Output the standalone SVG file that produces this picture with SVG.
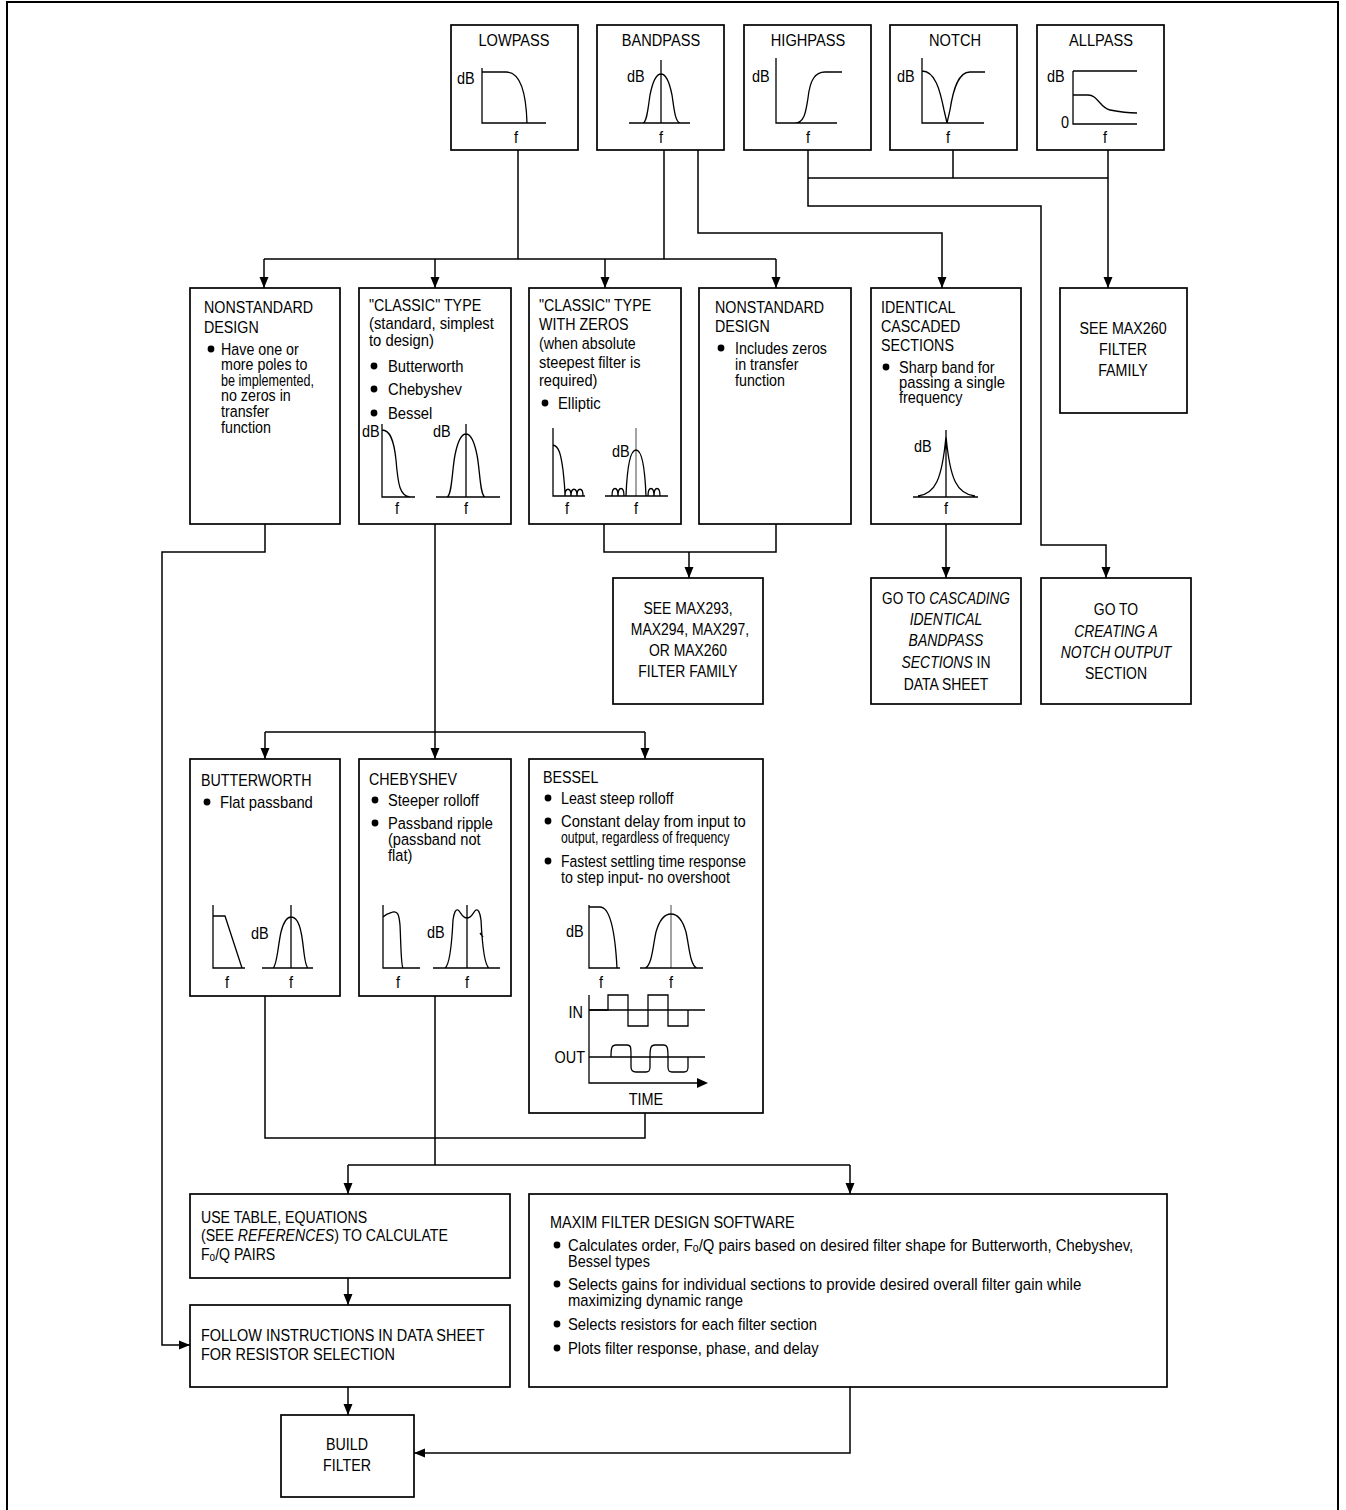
<svg xmlns="http://www.w3.org/2000/svg" width="1346" height="1510" viewBox="0 0 1346 1510">
<defs>
<marker id="ah" markerUnits="userSpaceOnUse" markerWidth="12" markerHeight="10" refX="11" refY="5" orient="auto"><path d="M0,0.5 L11,5 L0,9.5 z" fill="#000"/></marker>
<style>
.bx{fill:#fff;stroke:#000;stroke-width:1.7}
.ln{fill:none;stroke:#000;stroke-width:1.5}
.ar{fill:none;stroke:#000;stroke-width:1.5;marker-end:url(#ah)}
.gr{fill:none;stroke:#000;stroke-width:1.3}
.gy{fill:none;stroke:#666;stroke-width:1.2}
text{font-family:"Liberation Sans",Arial,Helvetica,sans-serif;font-size:17px;fill:#000}
.c{text-anchor:middle}
.e{text-anchor:end}
.i{font-style:italic}
</style>
</defs>
<rect width="1346" height="1510" fill="#fff"/>
<path d="M7,1512 V2 H1338 V1512" fill="none" stroke="#000" stroke-width="2"/>

<g id="connectors">
<path class="ln" d="M518,150 V259 M664,150 V259 M264,259 H776"/>
<path class="ar" d="M264,259 V288"/><path class="ar" d="M435,259 V288"/><path class="ar" d="M605,259 V288"/><path class="ar" d="M776,259 V288"/>
<path class="ar" d="M698,150 V233 H942 V288"/>
<path class="ar" d="M808,150 V206 H1041 V545 H1106 V578"/>
<path class="ln" d="M808,178 H1108 M953,150 V178"/>
<path class="ar" d="M1108,150 V288"/>
<path class="ar" d="M265,524 V552 H162 V1345 H190"/>
<path class="ln" d="M604,524 V552 H776 V524"/>
<path class="ar" d="M689,552 V578"/>
<path class="ar" d="M946,524 V578"/>
<path class="ln" d="M435,524 V732 M265,732 H645"/>
<path class="ar" d="M265,732 V759"/><path class="ar" d="M435,732 V759"/><path class="ar" d="M645,732 V759"/>
<path class="ln" d="M265,996 V1138 H645 V1113"/>
<path class="ln" d="M435,996 V1165 M348,1165 H850"/>
<path class="ar" d="M348,1165 V1194"/><path class="ar" d="M850,1165 V1194"/>
<path class="ar" d="M348,1278 V1305"/>
<path class="ar" d="M348,1387 V1415"/>
<path class="ar" d="M850,1387 V1453 H414"/>
</g>

<g id="lowpass">
<rect class="bx" x="451" y="25" width="127" height="125"/>
<text class="c" transform="matrix(.86 0 0 1 514 46)">LOWPASS</text>
<text transform="matrix(.85 0 0 1 457 84)">dB</text>
<path class="gr" d="M482,68 V123 H546 M482,72 H506 C518,72 526,88 527,123"/>
<text class="c" transform="matrix(.85 0 0 1 516 143)">f</text>
</g>
<g id="bandpass">
<rect class="bx" x="597" y="25" width="127" height="125"/>
<text class="c" transform="matrix(.86 0 0 1 661 46)">BANDPASS</text>
<text transform="matrix(.85 0 0 1 627 82)">dB</text>
<path class="gr" d="M661,60 V123 M629,123 H690 M643,123 C647,122 648,108 650,95 C653,80 657,74 661,74 C665,74 669,80 672,95 C674,108 675,122 680,123"/>
<text class="c" transform="matrix(.85 0 0 1 661 143)">f</text>
</g>
<g id="highpass">
<rect class="bx" x="744" y="25" width="127" height="125"/>
<text class="c" transform="matrix(.86 0 0 1 808 46)">HIGHPASS</text>
<text transform="matrix(.85 0 0 1 752 82)">dB</text>
<path class="gr" d="M776,58 V123 H837 M795,123 C805,123 806,110 808,98 C810,80 815,72 825,72 H842"/>
<text class="c" transform="matrix(.85 0 0 1 808 143)">f</text>
</g>
<g id="notch">
<rect class="bx" x="890" y="25" width="127" height="125"/>
<text class="c" transform="matrix(.86 0 0 1 955 46)">NOTCH</text>
<text transform="matrix(.85 0 0 1 897 82)">dB</text>
<path class="gr" d="M922,58 V123 H984 M922,71 C935,71 940,90 944,110 L947,123 L950,110 C953,90 958,72 970,72 H985"/>
<text class="c" transform="matrix(.85 0 0 1 948 143)">f</text>
</g>
<g id="allpass">
<rect class="bx" x="1037" y="25" width="127" height="125"/>
<text class="c" transform="matrix(.86 0 0 1 1101 46)">ALLPASS</text>
<text transform="matrix(.85 0 0 1 1047 82)">dB</text>
<text transform="matrix(.85 0 0 1 1061 128)">0</text>
<path class="gr" d="M1073,71 V124 H1137 M1073,71 H1137 M1073,95 H1088 C1098,95 1100,108 1110,110 C1120,112 1125,113 1137,113"/>
<text class="c" transform="matrix(.85 0 0 1 1105 143)">f</text>
</g>

<g id="nonstandard1">
<rect class="bx" x="190" y="288" width="150" height="236"/>
<text transform="matrix(.84 0 0 1 204 313)">NONSTANDARD</text>
<text transform="matrix(.84 0 0 1 204 333)">DESIGN</text>
<circle cx="211" cy="349" r="3.4"/>
<text transform="matrix(.84 0 0 1 221 355)">Have one or</text>
<text transform="matrix(.84 0 0 1 221 370)">more poles to</text>
<text transform="matrix(.74 0 0 1 221 386)">be implemented,</text>
<text transform="matrix(.84 0 0 1 221 401)">no zeros in</text>
<text transform="matrix(.84 0 0 1 221 417)">transfer</text>
<text transform="matrix(.84 0 0 1 221 433)">function</text>
</g>
<g id="classic">
<rect class="bx" x="359" y="288" width="152" height="236"/>
<text transform="matrix(.84 0 0 1 369 311)">"CLASSIC" TYPE</text>
<text transform="matrix(.87 0 0 1 369 329)">(standard, simplest</text>
<text transform="matrix(.87 0 0 1 369 346)">to design)</text>
<circle cx="374" cy="366" r="3.4"/><circle cx="374" cy="389" r="3.4"/><circle cx="374" cy="413" r="3.4"/>
<text transform="matrix(.87 0 0 1 388 372)">Butterworth</text>
<text transform="matrix(.87 0 0 1 388 395)">Chebyshev</text>
<text transform="matrix(.87 0 0 1 388 419)">Bessel</text>
<text transform="matrix(.85 0 0 1 362 437)">dB</text>
<path class="gr" d="M382,424 V497 H415 M382,430 C390,430 394,440 396,460 C398,485 400,496 410,497"/>
<text transform="matrix(.85 0 0 1 433 437)">dB</text>
<path class="gr" d="M466,424 V497 M436,497 H500 M447,497 C452,496 452,470 455,455 C458,440 462,434 466,434 C470,434 474,440 477,455 C480,470 480,496 485,497"/>
<text class="c" transform="matrix(.85 0 0 1 397 514)">f</text>
<text class="c" transform="matrix(.85 0 0 1 466 514)">f</text>
</g>
<g id="classic-zeros">
<rect class="bx" x="529" y="288" width="152" height="236"/>
<text transform="matrix(.84 0 0 1 539 311)">"CLASSIC" TYPE</text>
<text transform="matrix(.84 0 0 1 539 330)">WITH ZEROS</text>
<text transform="matrix(.84 0 0 1 539 349)">(when absolute</text>
<text transform="matrix(.86 0 0 1 539 368)">steepest filter is</text>
<text transform="matrix(.86 0 0 1 539 386)">required)</text>
<circle cx="545" cy="403" r="3.4"/>
<text transform="matrix(.87 0 0 1 558 409)">Elliptic</text>
<path class="gr" d="M553,428 V496 H585 M553,445 C559,446 561,455 563,470 C565,488 565,494 565,496 M565,496 C565,487 571,487 571,496 C571,487 577,487 577,496 C577,487 583,487 583,496"/>
<text transform="matrix(.85 0 0 1 612 457)">dB</text>
<path class="gy" d="M636,428 V496"/>
<path class="gr" d="M605,496 H668 M626,496 C627,470 630,450 636,450 C642,450 645,470 646,496 M612,496 C612,486 618,486 618,496 C618,486 624,486 624,496 M648,496 C648,486 654,486 654,496 C654,486 660,486 660,496"/>
<text class="c" transform="matrix(.85 0 0 1 567 514)">f</text>
<text class="c" transform="matrix(.85 0 0 1 636 514)">f</text>
</g>
<g id="nonstandard2">
<rect class="bx" x="699" y="288" width="152" height="236"/>
<text transform="matrix(.84 0 0 1 715 313)">NONSTANDARD</text>
<text transform="matrix(.84 0 0 1 715 332)">DESIGN</text>
<circle cx="721" cy="348" r="3.4"/>
<text transform="matrix(.84 0 0 1 735 354)">Includes zeros</text>
<text transform="matrix(.84 0 0 1 735 370)">in transfer</text>
<text transform="matrix(.84 0 0 1 735 386)">function</text>
</g>
<g id="identical">
<rect class="bx" x="871" y="288" width="150" height="236"/>
<text transform="matrix(.84 0 0 1 881 313)">IDENTICAL</text>
<text transform="matrix(.84 0 0 1 881 332)">CASCADED</text>
<text transform="matrix(.84 0 0 1 881 351)">SECTIONS</text>
<circle cx="886" cy="367" r="3.4"/>
<text transform="matrix(.85 0 0 1 899 373)">Sharp band for</text>
<text transform="matrix(.87 0 0 1 899 388)">passing a single</text>
<text transform="matrix(.85 0 0 1 899 403)">frequency</text>
<text transform="matrix(.85 0 0 1 914 452)">dB</text>
<path class="gr" d="M946,430 V497 M913,497 H978 M918,496 C935,494 942,480 946,436 C950,480 957,494 975,496"/>
<text class="c" transform="matrix(.85 0 0 1 946 514)">f</text>
</g>
<g id="max260">
<rect class="bx" x="1060" y="288" width="127" height="125"/>
<text class="c" transform="matrix(.84 0 0 1 1123 334)">SEE MAX260</text>
<text class="c" transform="matrix(.84 0 0 1 1123 355)">FILTER</text>
<text class="c" transform="matrix(.84 0 0 1 1123 376)">FAMILY</text>
</g>

<g id="max293">
<rect class="bx" x="613" y="578" width="150" height="126"/>
<text class="c" transform="matrix(.82 0 0 1 688 614)">SEE MAX293,</text>
<text class="c" transform="matrix(.82 0 0 1 690 635)">MAX294, MAX297,</text>
<text class="c" transform="matrix(.82 0 0 1 688 656)">OR MAX260</text>
<text class="c" transform="matrix(.82 0 0 1 688 677)">FILTER FAMILY</text>
</g>
<g id="cascading">
<rect class="bx" x="871" y="578" width="150" height="126"/>
<text class="c" transform="matrix(.8 0 0 1 946 604)">GO TO <tspan class="i">CASCADING</tspan></text>
<text class="c i" transform="matrix(.82 0 0 1 946 625)">IDENTICAL</text>
<text class="c i" transform="matrix(.82 0 0 1 946 646)">BANDPASS</text>
<text class="c" transform="matrix(.82 0 0 1 946 668)"><tspan class="i">SECTIONS</tspan> IN</text>
<text class="c" transform="matrix(.82 0 0 1 946 690)">DATA SHEET</text>
</g>
<g id="notch-output">
<rect class="bx" x="1041" y="578" width="150" height="126"/>
<text class="c" transform="matrix(.82 0 0 1 1116 615)">GO TO</text>
<text class="c i" transform="matrix(.82 0 0 1 1116 637)">CREATING A</text>
<text class="c i" transform="matrix(.82 0 0 1 1116 658)">NOTCH OUTPUT</text>
<text class="c" transform="matrix(.82 0 0 1 1116 679)">SECTION</text>
</g>

<g id="butterworth">
<rect class="bx" x="190" y="759" width="150" height="237"/>
<text transform="matrix(.84 0 0 1 201 786)">BUTTERWORTH</text>
<circle cx="207" cy="802" r="3.4"/>
<text transform="matrix(.87 0 0 1 220 808)">Flat passband</text>
<path class="gr" d="M213,905 V968 H245 M213,916 H225 L242,968"/>
<text transform="matrix(.85 0 0 1 251 939)">dB</text>
<path class="gr" d="M291,905 V968 M262,968 H313 M273,968 C277,966 278,945 281,932 C284,920 288,917 291,917 C295,917 299,922 301,932 C304,945 304,966 308,968"/>
<text class="c" transform="matrix(.85 0 0 1 227 988)">f</text>
<text class="c" transform="matrix(.85 0 0 1 291 988)">f</text>
</g>
<g id="chebyshev">
<rect class="bx" x="359" y="759" width="152" height="237"/>
<text transform="matrix(.84 0 0 1 369 785)">CHEBYSHEV</text>
<circle cx="375" cy="800" r="3.4"/><circle cx="375" cy="823" r="3.4"/>
<text transform="matrix(.86 0 0 1 388 806)">Steeper rolloff</text>
<text transform="matrix(.86 0 0 1 388 829)">Passband ripple</text>
<text transform="matrix(.86 0 0 1 388 845)">(passband not</text>
<text transform="matrix(.86 0 0 1 388 861)">flat)</text>
<path class="gr" d="M383,905 V968 H420 M383,917 C387,913 390,913 393,912 C398,911 399,915 400,925 C401,945 401,966 403,968"/>
<text transform="matrix(.85 0 0 1 427 938)">dB</text>
<path class="gr" d="M467,905 V968 M433,968 H500 M445,968 C450,965 452,940 453,920 C454,912 456,909 458,910 C461,912 462,918 467,918 C472,918 473,912 476,910 C478,909 480,912 481,920 C482,940 484,965 489,968 M480,933 L483,937"/>
<text class="c" transform="matrix(.85 0 0 1 398 988)">f</text>
<text class="c" transform="matrix(.85 0 0 1 467 988)">f</text>
</g>
<g id="bessel">
<rect class="bx" x="529" y="759" width="234" height="354"/>
<text transform="matrix(.84 0 0 1 543 783)">BESSEL</text>
<circle cx="548" cy="798" r="3.4"/><circle cx="548" cy="821" r="3.4"/><circle cx="548" cy="861" r="3.4"/>
<text transform="matrix(.84 0 0 1 561 804)">Least steep rolloff</text>
<text transform="matrix(.87 0 0 1 561 827)">Constant delay from input to</text>
<text transform="matrix(.72 0 0 1 561 843)">output, regardless of frequency</text>
<text transform="matrix(.82 0 0 1 561 867)">Fastest settling time response</text>
<text transform="matrix(.84 0 0 1 561 883)">to step input- no overshoot</text>
<text transform="matrix(.85 0 0 1 566 937)">dB</text>
<path class="gr" d="M589,905 V968 H620 M589,907 H600 C610,907 615,930 617,968"/>
<path class="gy" d="M671,905 V968"/>
<path class="gr" d="M640,968 H703 M645,968 C652,966 653,945 656,932 C660,918 665,914 671,914 C677,914 682,918 686,932 C689,945 690,966 697,968"/>
<text class="c" transform="matrix(.85 0 0 1 601 988)">f</text>
<text class="c" transform="matrix(.85 0 0 1 671 988)">f</text>
<text class="e" transform="matrix(.85 0 0 1 583 1018)">IN</text>
<text class="e" transform="matrix(.85 0 0 1 585 1063)">OUT</text>
<path class="gr" d="M589,995 V1083 H697 M589,1010 H705 M589,1057 H705"/>
<path d="M697,1078 L708,1083 L697,1088 z" fill="#000"/>
<path class="gr" d="M589,1010 H608 V995 H628 V1026 H648 V995 H668 V1026 H688 V1010"/>
<path class="gr" d="M611,1057 C611,1047 612,1045 616,1045 H627 C631,1045 631,1047 631,1057 V1067 C631,1071 633,1072 636,1072 H646 C649,1072 650,1071 650,1067 V1057 C650,1047 651,1045 655,1045 H664 C667,1045 668,1047 668,1057 V1067 C668,1071 669,1072 672,1072 H684 C687,1072 688,1071 688,1067 V1057"/>
<text class="c" transform="matrix(.85 0 0 1 646 1105)">TIME</text>
</g>

<g id="use-table">
<rect class="bx" x="190" y="1194" width="320" height="84"/>
<text transform="matrix(.83 0 0 1 201 1223)">USE TABLE, EQUATIONS</text>
<text transform="matrix(.83 0 0 1 201 1241)">(SEE <tspan class="i">REFERENCES</tspan>) TO CALCULATE</text>
<text transform="matrix(.83 0 0 1 201 1260)">F<tspan font-size="12" dy="1">o</tspan><tspan dy="-1">/Q PAIRS</tspan></text>
</g>
<g id="follow">
<rect class="bx" x="190" y="1305" width="320" height="82"/>
<text transform="matrix(.85 0 0 1 201 1341)">FOLLOW INSTRUCTIONS IN DATA SHEET</text>
<text transform="matrix(.85 0 0 1 201 1360)">FOR RESISTOR SELECTION</text>
</g>
<g id="build">
<rect class="bx" x="281" y="1415" width="133" height="82"/>
<text class="c" transform="matrix(.84 0 0 1 347 1450)">BUILD</text>
<text class="c" transform="matrix(.84 0 0 1 347 1471)">FILTER</text>
</g>
<g id="maxim">
<rect class="bx" x="529" y="1194" width="638" height="193"/>
<text transform="matrix(.85 0 0 1 550 1228)">MAXIM FILTER DESIGN SOFTWARE</text>
<circle cx="557" cy="1245" r="3.4"/><circle cx="557" cy="1284" r="3.4"/><circle cx="557" cy="1324" r="3.4"/><circle cx="557" cy="1348" r="3.4"/>
<text transform="matrix(.875 0 0 1 568 1251)">Calculates order, F<tspan font-size="12" dy="1">o</tspan><tspan dy="-1">/Q pairs based on desired filter shape for Butterworth, Chebyshev,</tspan></text>
<text transform="matrix(.85 0 0 1 568 1267)">Bessel types</text>
<text transform="matrix(.885 0 0 1 568 1290)">Selects gains for individual sections to provide desired overall filter gain while</text>
<text transform="matrix(.87 0 0 1 568 1306)">maximizing dynamic range</text>
<text transform="matrix(.87 0 0 1 568 1330)">Selects resistors for each filter section</text>
<text transform="matrix(.87 0 0 1 568 1354)">Plots filter response, phase, and delay</text>
</g>
</svg>
